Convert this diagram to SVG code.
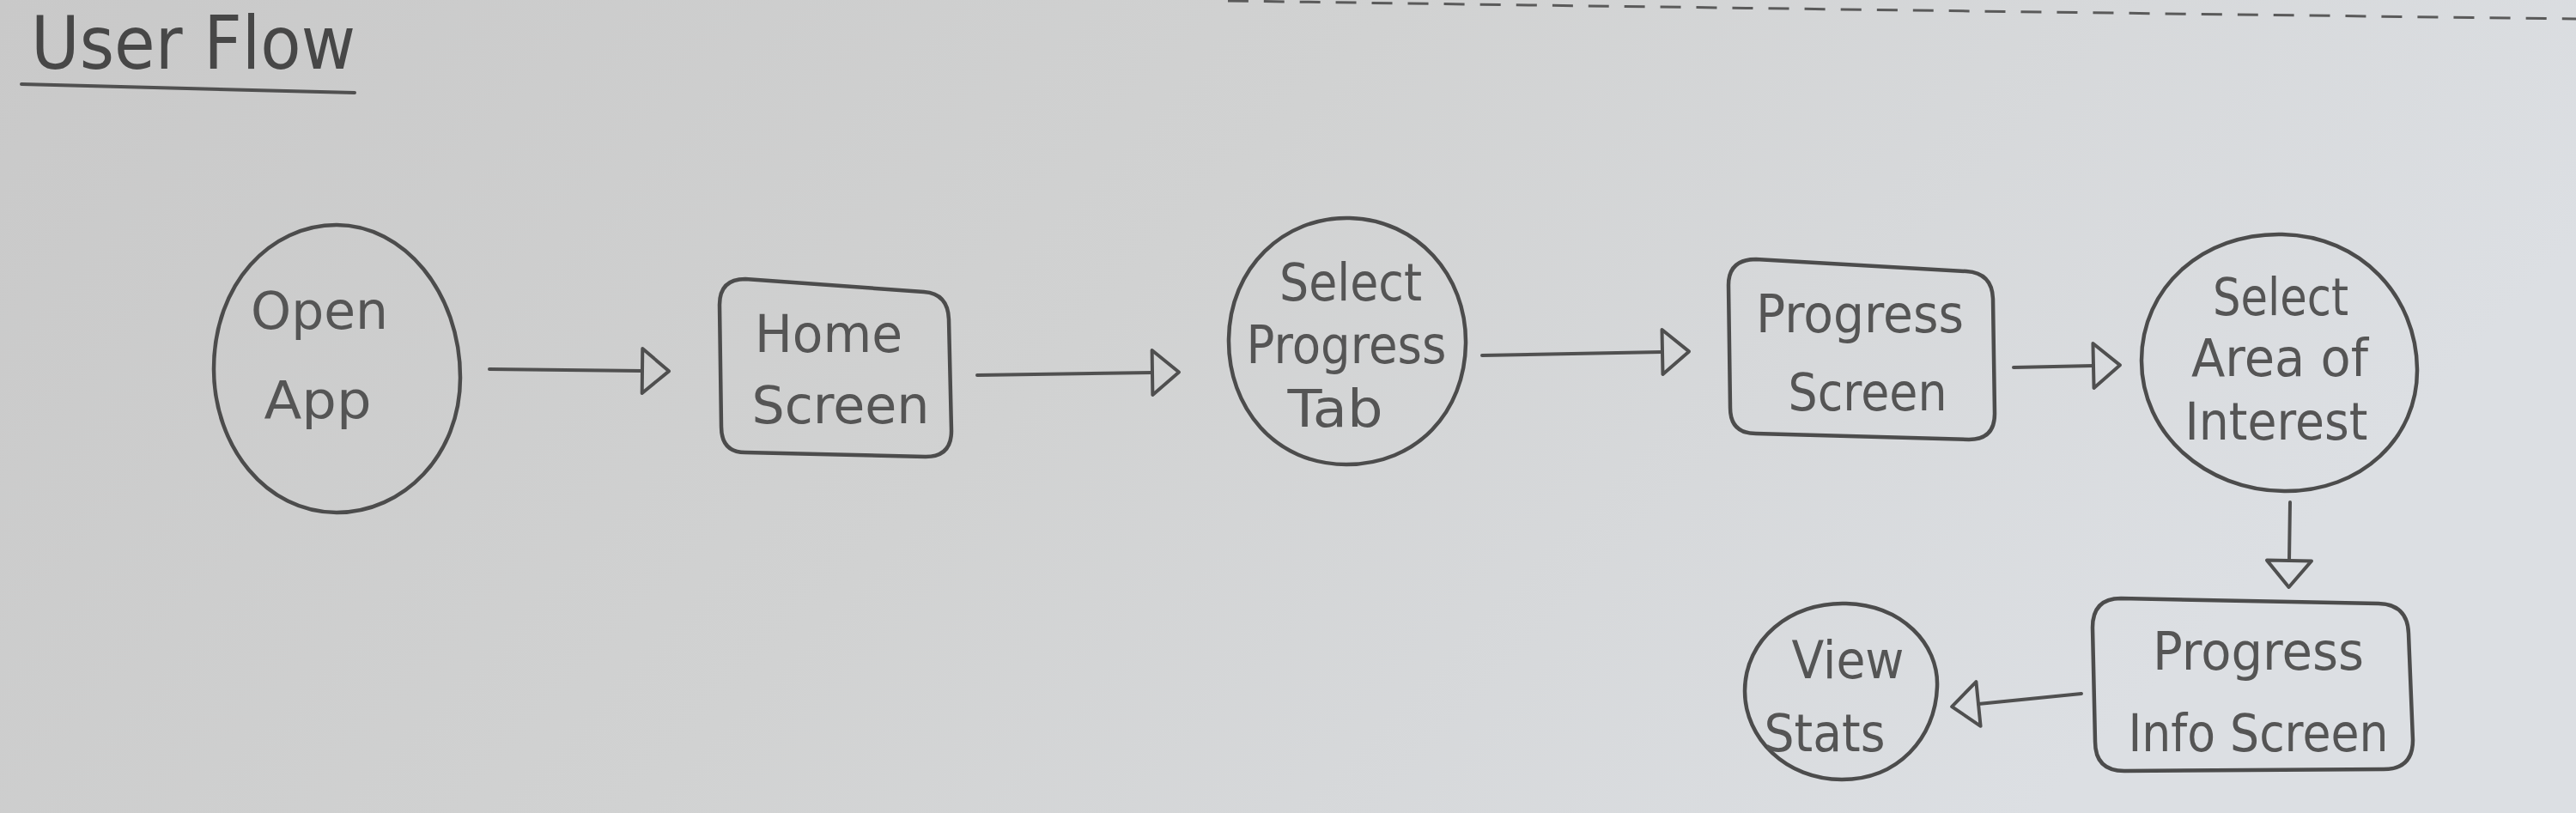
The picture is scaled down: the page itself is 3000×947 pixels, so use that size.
<svg xmlns="http://www.w3.org/2000/svg" width="3000" height="947" viewBox="0 0 3000 947">
<defs>
<linearGradient id="paper" x1="0" y1="0" x2="1" y2="0.3">
<stop offset="0" stop-color="#c9c9c9"/>
<stop offset="0.5" stop-color="#d1d2d2"/>
<stop offset="1" stop-color="#dcdfe3"/>
</linearGradient>
<marker id="head" markerUnits="userSpaceOnUse" markerWidth="40" markerHeight="64" refX="2" refY="28" orient="auto" overflow="visible">
<path d="M2,2 L33,28 L2,54 Z" fill="none" stroke="#4f4f4f" stroke-width="4" stroke-linejoin="round"/>
</marker>
<style>
.shape{fill:none;stroke:#4c4c4c;stroke-width:4.5;stroke-linejoin:round}
.conn{fill:none;stroke:#505050;stroke-width:4;stroke-linecap:round}
.lbl{font-family:"DejaVu Sans","Liberation Sans",sans-serif;font-size:60px;fill:#555555;text-anchor:middle}
.title{font-family:"DejaVu Sans","Liberation Sans",sans-serif;font-size:86px;fill:#474747}
</style>
</defs>
<rect width="3000" height="947" fill="url(#paper)"/>
<path d="M1430,1 Q2200,12 3000,22" fill="none" stroke="#5a5a5a" stroke-width="3" stroke-dasharray="24 18"/>

<g id="title">
<text class="title" x="36" y="80" textLength="378" lengthAdjust="spacingAndGlyphs">User Flow</text>
<path d="M25,98 L413,108" class="conn" stroke-width="5"/>
</g>

<g id="connectors">
<path class="conn" d="M570,430 L748,432" marker-end="url(#head)"/>
<path class="conn" d="M1138,437 L1342,434" marker-end="url(#head)"/>
<path class="conn" d="M1726,414 L1936,410" marker-end="url(#head)"/>
<path class="conn" d="M2345,428 L2438,426" marker-end="url(#head)"/>
<path class="conn" d="M2667,585 L2666,653" marker-end="url(#head)"/>
<path class="conn" d="M2424,808 L2304,820" marker-end="url(#head)"/>
</g>

<g id="open-app">
<path class="shape" d="M392,262 C470,262 536,340 536,440 C536,530 470,597 392,597 C310,597 249,520 249,430 C249,330 315,262 392,262 Z"/>
<text class="lbl" x="372" y="383" textLength="160" lengthAdjust="spacingAndGlyphs">Open</text>
<text class="lbl" x="370" y="487" textLength="125" lengthAdjust="spacingAndGlyphs">App</text>
</g>

<g id="home-screen">
<path class="shape" d="M868,325 L1076,340 Q1104,342 1105,372 L1108,502 Q1108,532 1078,532 L868,527 Q840,527 840,497 L838,355 Q838,325 868,325 Z"/>
<text class="lbl" x="965" y="410" textLength="172" lengthAdjust="spacingAndGlyphs">Home</text>
<text class="lbl" x="979" y="493" textLength="207" lengthAdjust="spacingAndGlyphs">Screen</text>
</g>

<g id="select-progress-tab">
<path class="shape" d="M1572,254 C1650,256 1708,320 1707,400 C1706,480 1650,541 1568,541 C1485,541 1430,475 1431,395 C1432,312 1495,252 1572,254 Z"/>
<text class="lbl" x="1573" y="350" textLength="166" lengthAdjust="spacingAndGlyphs">Select</text>
<text class="lbl" x="1568" y="423" textLength="233" lengthAdjust="spacingAndGlyphs">Progress</text>
<text class="lbl" x="1555" y="497" textLength="111" lengthAdjust="spacingAndGlyphs">Tab</text>
</g>

<g id="progress-screen">
<path class="shape" d="M2045,302 L2290,316 Q2320,318 2321,348 L2323,482 Q2323,512 2293,512 L2045,505 Q2015,505 2015,475 L2013,332 Q2013,302 2045,302 Z"/>
<text class="lbl" x="2166" y="387" textLength="242" lengthAdjust="spacingAndGlyphs">Progress</text>
<text class="lbl" x="2175" y="478" textLength="185" lengthAdjust="spacingAndGlyphs">Screen</text>
</g>

<g id="select-area">
<path class="shape" d="M2658,273 C2750,275 2814,345 2815,430 C2816,510 2750,573 2660,572 C2568,571 2494,505 2494,420 C2494,335 2565,271 2658,273 Z"/>
<text class="lbl" x="2656" y="367" textLength="158" lengthAdjust="spacingAndGlyphs">Select</text>
<text class="lbl" x="2655" y="438" textLength="206" lengthAdjust="spacingAndGlyphs">Area of</text>
<text class="lbl" x="2651" y="512" textLength="213" lengthAdjust="spacingAndGlyphs">Interest</text>
</g>

<g id="progress-info-screen">
<path class="shape" d="M2470,697 L2770,703 Q2804,704 2805,738 L2810,862 Q2810,896 2776,896 L2474,898 Q2440,898 2440,864 L2437,731 Q2437,697 2470,697 Z" stroke-width="5"/>
<text class="lbl" x="2630" y="780" textLength="246" lengthAdjust="spacingAndGlyphs">Progress</text>
<text class="lbl" x="2630" y="875" textLength="303" lengthAdjust="spacingAndGlyphs">Info Screen</text>
</g>

<g id="view-stats">
<path class="shape" d="M2150,703 C2215,705 2258,750 2256,800 C2254,860 2210,908 2145,908 C2080,908 2032,860 2032,805 C2032,745 2085,701 2150,703 Z"/>
<text class="lbl" x="2152" y="790" textLength="131" lengthAdjust="spacingAndGlyphs">View</text>
<text class="lbl" x="2125" y="875" textLength="141" lengthAdjust="spacingAndGlyphs">Stats</text>
</g>
</svg>
